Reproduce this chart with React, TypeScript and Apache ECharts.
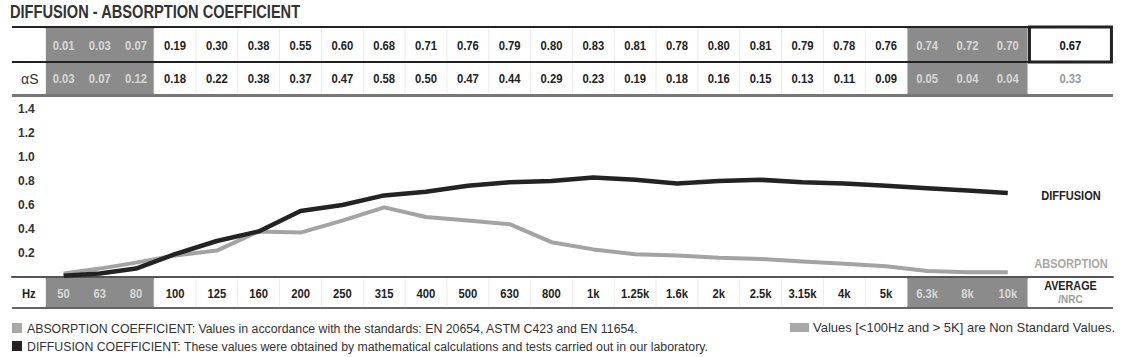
import React, { useEffect, useRef } from "react";
import * as echarts from "echarts";

// ---- data ----
const frequencies = ["50", "63", "80", "100", "125", "160", "200", "250", "315", "400", "500", "630", "800", "1k", "1.25k", "1.6k", "2k", "2.5k", "3.15k", "4k", "5k", "6.3k", "8k", "10k"];
const diffusion = [0.01, 0.03, 0.07, 0.19, 0.30, 0.38, 0.55, 0.60, 0.68, 0.71, 0.76, 0.79, 0.80, 0.83, 0.81, 0.78, 0.80, 0.81, 0.79, 0.78, 0.76, 0.74, 0.72, 0.70];
const absorption = [0.03, 0.07, 0.12, 0.18, 0.22, 0.38, 0.37, 0.47, 0.58, 0.50, 0.47, 0.44, 0.29, 0.23, 0.19, 0.18, 0.16, 0.15, 0.13, 0.11, 0.09, 0.05, 0.04, 0.04];
const nonStandardFrequencies = ["50", "63", "80", "6.3k", "8k", "10k"];
const diffusionAverage = "0.67";
const absorptionAverage = "0.33";

const titleText = "DIFFUSION - ABSORPTION COEFFICIENT";
const note1 = "ABSORPTION COEFFICIENT: Values in accordance with the standards: EN 20654, ASTM C423 and EN 11654.";
const note2 = "DIFFUSION COEFFICIENT: These values were obtained by mathematical calculations and tests carried out in our laboratory.";
const note3 = "Values [<100Hz and > 5K] are Non Standard Values.";

// ---- layout ----
const W = 1127;
const H = 357;
const TABLE_LEFT = 12;
const LABEL_W = 33.5;
const NS_LEFT_W = 36.2;
const STD_W = 41.83;
const NS_RIGHT_W = 40.3;
const AVG_W = 85;
const ROW1_TOP = 27;
const ROW_SEP = 62;
const ROW2_BOTTOM = 95.5;
const PLOT_TOP = 97;
const AXIS_Y = 277;
const HZ_BOTTOM = 308;

const SANS = "'Liberation Sans', Arial, Helvetica, sans-serif";

const GRAY_FILL = "#8b8b8b";
const GRAY_TEXT = "#d8d8d8";
const DARK = "#222222";
const LIGHT_LINE = "#a3a3a3";

function cellWidth(i: number) {
  if (i < 3) return NS_LEFT_W;
  if (i >= frequencies.length - 3) return NS_RIGHT_W;
  return STD_W;
}
const colStarts: number[] = [];
{
  let x = TABLE_LEFT + LABEL_W;
  for (let i = 0; i < frequencies.length; i++) {
    colStarts.push(x);
    x += cellWidth(i);
  }
}
const colsEnd = colStarts[colStarts.length - 1] + cellWidth(frequencies.length - 1);
const TABLE_RIGHT = colsEnd + AVG_W;
const TABLE_W = TABLE_RIGHT - TABLE_LEFT;
const colCenter = (i: number) => colStarts[i] + cellWidth(i) / 2;

function buildGraphic() {
  const g: any[] = [];
  const text = (t: string, x: number, y: number, size: number, fill: string, weight = "bold", align = "center", sx = 1) => ({
    type: "text",
    silent: true,
    x,
    y,
    scaleX: sx,
    style: { text: t, x: 0, y: 0, fill, fontSize: size, fontWeight: weight, fontFamily: SANS, align, verticalAlign: "middle" },
  });
  const line = (x1: number, y1: number, x2: number, y2: number, stroke: string, lineWidth: number) => ({
    type: "line",
    silent: true,
    shape: { x1, y1, x2, y2 },
    style: { stroke, lineWidth },
  });
  const rect = (x: number, y: number, w: number, h: number, fill: string) => ({
    type: "rect",
    silent: true,
    shape: { x, y, width: w, height: h },
    style: { fill },
  });

  // title (condensed look)
  g.push(text(titleText, 10, 11.5, 19, "#333333", "bold", "left", 0.77));

  // non-standard gray blocks (table + Hz row)
  const nsIdx = frequencies.map((f, i) => (nonStandardFrequencies.includes(f) ? i : -1)).filter((i) => i >= 0);
  const groups: number[][] = [];
  nsIdx.forEach((i) => {
    const last = groups[groups.length - 1];
    if (last && last[last.length - 1] === i - 1) last.push(i);
    else groups.push([i]);
  });
  groups.forEach((grp) => {
    const x0 = colStarts[grp[0]];
    const x1 = colStarts[grp[grp.length - 1]] + cellWidth(grp[grp.length - 1]);
    g.push(rect(x0, ROW1_TOP, x1 - x0, ROW2_BOTTOM - ROW1_TOP, GRAY_FILL));
    g.push(rect(x0, AXIS_Y, x1 - x0, HZ_BOTTOM - AXIS_Y, GRAY_FILL));
  });

  // faint cell separators
  for (let i = 0; i <= frequencies.length; i++) {
    const x = i < frequencies.length ? colStarts[i] : colsEnd;
    const inGray = i > 0 && i < frequencies.length && nonStandardFrequencies.includes(frequencies[i]) && nonStandardFrequencies.includes(frequencies[i - 1]);
    if (inGray) continue;
    g.push(line(x, ROW1_TOP + 2, x, ROW2_BOTTOM - 2, "#ececec", 1));
    g.push(line(x, AXIS_Y + 2, x, HZ_BOTTOM - 2, "#ececec", 1));
  }

  // table rules
  g.push(line(TABLE_LEFT, ROW1_TOP, colsEnd, ROW1_TOP, DARK, 2));
  g.push(line(TABLE_LEFT, ROW_SEP, colsEnd, ROW_SEP, DARK, 2));
  g.push(line(TABLE_LEFT, ROW2_BOTTOM, TABLE_RIGHT, ROW2_BOTTOM, "#777777", 3));
  g.push({
    type: "rect",
    silent: true,
    shape: { x: colsEnd + 1.5, y: ROW1_TOP, width: AVG_W - 3, height: ROW_SEP - ROW1_TOP },
    style: { fill: "#ffffff", stroke: DARK, lineWidth: 3 },
  });
  g.push(line(TABLE_LEFT, HZ_BOTTOM, TABLE_RIGHT, HZ_BOTTOM, "#666666", 2));

  // row values
  const row1Y = (ROW1_TOP + ROW_SEP) / 2 + 1;
  const row2Y = (ROW_SEP + ROW2_BOTTOM) / 2;
  const hzY = (AXIS_Y + HZ_BOTTOM) / 2 + 1;
  const CS = 0.9;
  frequencies.forEach((f, i) => {
    const ns = nonStandardFrequencies.includes(f);
    const fill = ns ? GRAY_TEXT : DARK;
    g.push(text(diffusion[i].toFixed(2), colCenter(i), row1Y, 12.5, fill, "bold", "center", CS));
    g.push(text(absorption[i].toFixed(2), colCenter(i), row2Y, 12.5, fill, "bold", "center", CS));
    g.push(text(f, colCenter(i), hzY, 12.5, fill, "bold", "center", CS));
  });
  const avgX = colsEnd + AVG_W / 2;
  g.push(text(diffusionAverage, avgX, row1Y, 12.5, "#111111", "bold", "center", CS));
  g.push(text(absorptionAverage, avgX, row2Y, 12.5, "#9a9a9a", "bold", "center", CS));
  g.push(text("αS", TABLE_LEFT + LABEL_W / 2 + 1, row2Y, 14, "#333333", "normal"));
  g.push(text("Hz", TABLE_LEFT + LABEL_W / 2, hzY, 12.5, DARK, "bold", "center", CS));
  g.push(text("AVERAGE", avgX, 286, 12, DARK, "bold", "center", CS));
  g.push(text("/NRC", avgX, 299.5, 11, "#9a9a9a", "bold", "center", CS));

  // series labels
  g.push(text("DIFFUSION", 1071, 196, 12, DARK, "bold", "center", 0.92));
  g.push(text("ABSORPTION", 1071, 264, 12, "#a8a8a8", "bold", "center", 0.92));

  // notes
  g.push(rect(12, 323, 10, 10, "#a8a8a8"));
  g.push(text(note1, 27, 328.5, 12.3, "#333333", "normal", "left"));
  g.push(rect(12, 341, 10, 10, DARK));
  g.push(text(note2, 27, 346.5, 12.3, "#333333", "normal", "left"));
  g.push(rect(790, 323, 19, 9, "#a8a8a8"));
  g.push(text(note3, 813, 328.5, 12.3, "#333333", "normal", "left", 1.055));
  return g;
}

export default function App() {
  const ref = useRef<HTMLDivElement>(null);
  useEffect(() => {
    document.body.style.margin = "0";
    const chart = echarts.init(ref.current!, undefined, { renderer: "svg", width: W, height: H });
    const toPoints = (vals: number[]) => vals.map((v, i) => [colCenter(i) - TABLE_LEFT, v]);
    chart.setOption({
      animation: false,
      backgroundColor: "#ffffff",
      grid: { left: TABLE_LEFT, width: TABLE_W, top: PLOT_TOP, height: AXIS_Y - PLOT_TOP },
      xAxis: {
        type: "value",
        min: 0,
        max: TABLE_W,
        axisLine: { show: true, lineStyle: { color: "#555555", width: 2 } },
        axisTick: { show: false },
        axisLabel: { show: false },
        splitLine: { show: false },
      },
      yAxis: {
        type: "value",
        min: 0,
        max: 1.5,
        interval: 0.2,
        axisLine: { show: false },
        axisTick: { show: false },
        splitLine: { show: false },
        axisLabel: {
          inside: true,
          margin: 6,
          color: "#333333",
          fontWeight: "bold",
          fontSize: 12,
          fontFamily: SANS,
          formatter: (v: number) => (v > 0.01 && v < 1.45 ? v.toFixed(1) : ""),
        },
      },
      series: [
        {
          name: "ABSORPTION",
          type: "line",
          data: toPoints(absorption),
          symbol: "none",
          lineStyle: { color: LIGHT_LINE, width: 4, join: "round" },
          z: 3,
        },
        {
          name: "DIFFUSION",
          type: "line",
          data: toPoints(diffusion),
          symbol: "none",
          lineStyle: { color: "#232323", width: 4.5, join: "round" },
          z: 4,
        },
      ],
      graphic: buildGraphic(),
    });
    return () => chart.dispose();
  }, []);
  return <div ref={ref} style={{ position: "absolute", left: 0, top: 0, width: W, height: H }} />;
}
